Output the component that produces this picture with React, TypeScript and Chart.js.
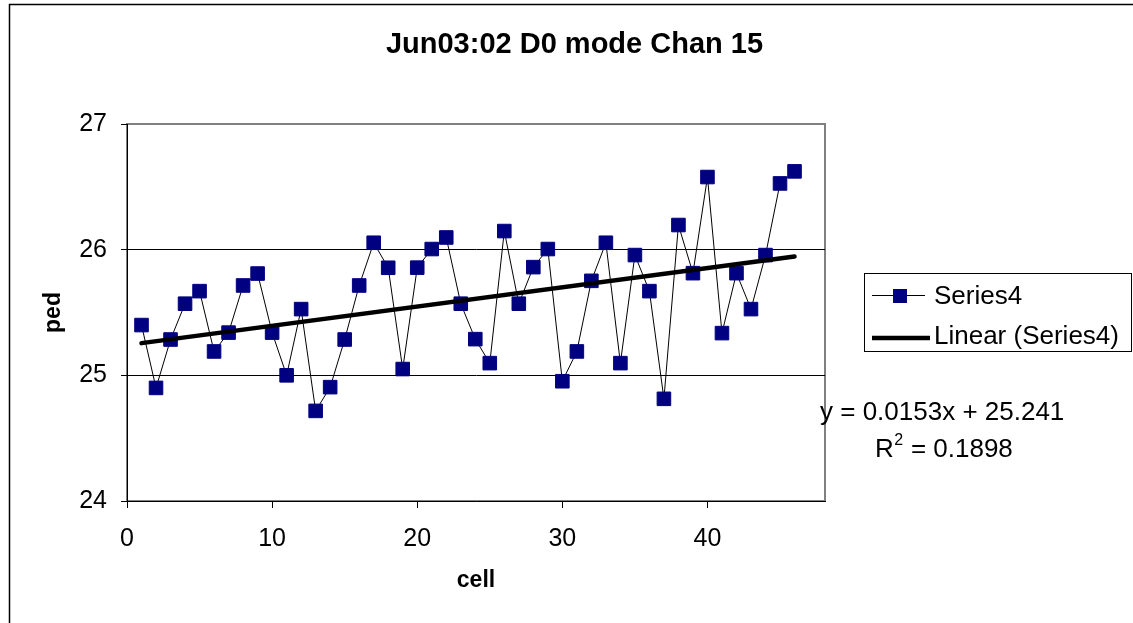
import React, { useEffect, useRef } from "react";
import { Chart, registerables } from "chart.js";

Chart.register(...registerables);

// Cell numbers and measured pedestal values
const cells = [
  1, 2, 3, 4, 5, 6, 7, 8, 9, 10, 11, 12, 13, 14, 15, 16, 17, 18, 19, 20, 21, 22, 23,
  24, 25, 26, 27, 28, 29, 30, 31, 32, 33, 34, 35, 36, 37, 38, 39, 40, 41, 42, 43, 44,
  45, 46,
];
const ped = [
  25.4, 24.9, 25.285, 25.57, 25.67, 25.19, 25.34, 25.715, 25.81, 25.34, 25.0, 25.527,
  24.717, 24.906, 25.285, 25.715, 26.055, 25.856, 25.05, 25.857, 26.005, 26.097, 25.57,
  25.288, 25.097, 26.148, 25.57, 25.861, 26.005, 24.953, 25.19, 25.752, 26.055, 25.097,
  25.957, 25.67, 24.813, 26.196, 25.813, 26.578, 25.336, 25.813, 25.527, 25.957, 26.527,
  26.623,
];

// Linear trend line coefficients
const slope = 0.0153;
const intercept = 25.241;
const rSquared = 0.1898;

// Axis ranges
const xRange = [0, 48.1];
const xStep = 10;
const yRange = [24, 27];
const yStep = 1;

const titleText = "Jun03:02 D0 mode Chan 15";
const seriesName = "Series4";
const trendName = "Linear (Series4)";
const xTitle = "cell";
const yTitle = "ped";

const FONT = "'Liberation Sans', Arial, Helvetica, sans-serif";
const NAVY = "#000080";

const decorations = {
  id: "decorations",
  beforeDraw(chart: any) {
    const { ctx, chartArea: a } = chart;
    ctx.save();
    // outer chart frame
    ctx.strokeStyle = "#000";
    ctx.lineWidth = 1.5;
    ctx.strokeRect(9.5, 4.5, 1300, 800);
    // plot area frame
    ctx.strokeStyle = "#808080";
    ctx.lineWidth = 2;
    ctx.strokeRect(a.left, a.top, a.right - a.left, a.bottom - a.top);
    ctx.restore();
  },
  afterDraw(chart: any) {
    const { ctx } = chart;
    ctx.save();
    ctx.fillStyle = "#000";
    ctx.textBaseline = "alphabetic";

    // title
    ctx.font = `bold 29px ${FONT}`;
    ctx.textAlign = "center";
    ctx.fillText(titleText, 574.5, 52.5);

    // legend box
    ctx.textAlign = "left";
    ctx.strokeStyle = "#000";
    ctx.lineWidth = 1;
    ctx.strokeRect(864.5, 273.5, 267, 78);

    // row 1: series sample
    ctx.beginPath();
    ctx.moveTo(872, 295.5);
    ctx.lineTo(925, 295.5);
    ctx.stroke();
    ctx.fillStyle = NAVY;
    ctx.fillRect(893, 289, 14, 14);
    ctx.fillStyle = "#000";
    ctx.font = `26px ${FONT}`;
    ctx.fillText(seriesName, 934, 303.5);

    // row 2: trend sample
    ctx.lineWidth = 4.5;
    ctx.beginPath();
    ctx.moveTo(872, 338);
    ctx.lineTo(930, 338);
    ctx.stroke();
    ctx.fillText(trendName, 934, 343.5);

    // trend equation
    ctx.font = `26px ${FONT}`;
    ctx.fillText(`y = ${slope}x + ${intercept}`, 820, 420);
    const rx = 875;
    ctx.fillText("R", rx, 456.5);
    const rw = ctx.measureText("R").width;
    ctx.font = `16px ${FONT}`;
    ctx.fillText("2", rx + rw + 0.5, 444.5);
    const sw = ctx.measureText("2").width;
    ctx.font = `26px ${FONT}`;
    ctx.fillText(` = ${rSquared}`, rx + rw + sw + 1, 456.5);
    ctx.restore();
  },
};

export default function App() {
  const canvasRef = useRef<HTMLCanvasElement | null>(null);

  useEffect(() => {
    const canvas = canvasRef.current;
    if (!canvas) return;
    Chart.defaults.font.family = FONT;
    Chart.defaults.color = "#000";

    const points = cells.map((c, i) => ({ x: c, y: ped[i] }));
    const first = cells[0];
    const last = cells[cells.length - 1];
    const trend = [
      { x: first, y: intercept + slope * first },
      { x: last, y: intercept + slope * last },
    ];

    const chart = new Chart(canvas, {
      type: "line",
      data: {
        datasets: [
          {
            label: trendName,
            data: trend,
            borderColor: "#000",
            borderWidth: 4.5,
            pointRadius: 0,
            borderCapStyle: "round",
            order: 0,
          },
          {
            label: seriesName,
            data: points,
            borderColor: "#000",
            borderWidth: 1,
            pointStyle: "rect",
            pointRadius: 9.6,
            pointBackgroundColor: NAVY,
            pointBorderColor: NAVY,
            pointBorderWidth: 1,
            order: 1,
          },
        ],
      },
      plugins: [decorations],
      options: {
        responsive: false,
        animation: false,
        events: [],
        layout: { padding: { left: 0, top: 124, right: 308, bottom: 0 } },
        plugins: {
          legend: { display: false },
          title: { display: false },
          tooltip: { enabled: false },
        },
        scales: {
          x: {
            type: "linear",
            min: xRange[0],
            max: xRange[1],
            afterFit: (s: any) => {
              s.height = 122;
            },
            ticks: {
              stepSize: xStep,
              includeBounds: false,
              font: { size: 25 },
              color: "#000",
              padding: 16,
              maxRotation: 0,
            },
            grid: {
              drawOnChartArea: false,
              tickColor: "#000",
              tickLength: 7,
              lineWidth: 1,
            },
            border: { color: "#000", width: 1 },
            title: {
              display: true,
              text: xTitle,
              font: { size: 23, weight: "bold" },
              color: "#000",
              padding: { top: 0, bottom: 29 },
            },
          },
          y: {
            type: "linear",
            min: yRange[0],
            max: yRange[1],
            afterFit: (s: any) => {
              s.width = 127;
            },
            ticks: {
              stepSize: yStep,
              font: { size: 25 },
              color: "#000",
              padding: 14,
            },
            grid: {
              color: (c: any) =>
                c.tick && c.tick.value > yRange[0] && c.tick.value < yRange[1]
                  ? "#000"
                  : "rgba(0,0,0,0)",
              tickColor: "#000",
              tickLength: 6,
              lineWidth: 1,
            },
            border: { color: "#000", width: 1 },
            title: {
              display: true,
              text: yTitle,
              font: { size: 23, weight: "bold" },
              color: "#000",
              padding: { top: 40, bottom: 0 },
            },
          },
        },
      },
    } as any);

    return () => chart.destroy();
  }, []);

  return (
    <div style={{ position: "fixed", left: 0, top: 0, width: 1133, height: 623, background: "#fff" }}>
      <canvas ref={canvasRef} width={1133} height={623} style={{ display: "block" }} />
    </div>
  );
}
